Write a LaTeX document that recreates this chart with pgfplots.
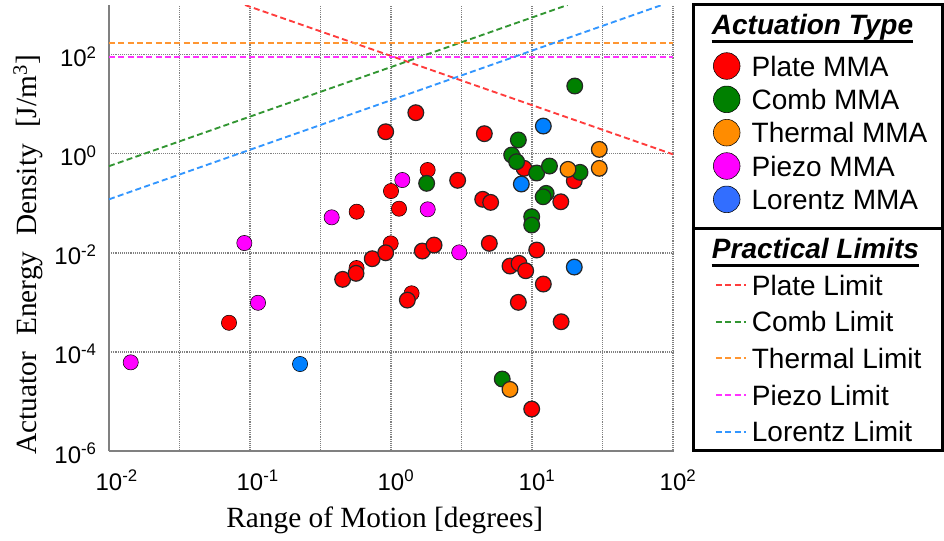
\documentclass[border=0pt]{standalone}
\usepackage{fontspec}
\setmainfont{Liberation Sans}
\newfontfamily\timesfont{Liberation Serif}
\usepackage{pgfplots}
\pgfplotsset{compat=1.18}

\definecolor{cRed}{RGB}{255,0,0}
\definecolor{cGreen}{RGB}{0,128,0}
\definecolor{cOrange}{RGB}{255,140,0}
\definecolor{cMag}{RGB}{255,0,255}
\definecolor{cBlue}{RGB}{0,128,255}
\definecolor{lRed}{RGB}{255,60,60}
\definecolor{lGreen}{RGB}{50,150,50}
\definecolor{lOrange}{RGB}{255,150,50}
\definecolor{lMag}{RGB}{255,50,255}
\definecolor{lBlue}{RGB}{50,150,255}
\definecolor{legBlue}{RGB}{50,110,255}

\pgfplotsset{
  myedged/.style={only marks, mark=*, mark size=5.9pt, mark options={fill=#1, draw=black!85, line width=0.9pt}},
  myplain/.style={only marks, mark=*, mark size=5.7pt, mark options={fill=#1, draw=none}},
  mylegmark/.style={only marks, mark=*, mark size=10pt, mark options={fill=#1, draw=none},
     legend image code/.code={\draw plot coordinates {(0pt,0pt)};}},
  mylimit/.style={color=#1, line width=1.4pt, dash pattern=on 4.5pt off 2.5pt,
     legend image code/.code={\draw (0pt,0pt) -- (22.5pt,0pt);}},
}

\begin{document}
\begin{tikzpicture}
\useasboundingbox (-81.75pt,-66.75pt) rectangle (626.25pt,338.25pt);

% background axis: grid, labels, practical limits
\begin{axis}[
  scale only axis, width=423pt, height=334.5pt,
  xmode=log, ymode=log,
  xmin=0.01, xmax=100, ymin=1e-6, ymax=1000,
  at={(0pt,0pt)}, anchor=south west,
  axis lines*=left,
  axis line style={-, gray, line width=1.5pt},
  xtick={0.01,0.1,1,10,100},
  xticklabels={10\rlap{\textsuperscript{-2}},10\rlap{\textsuperscript{-1}},10\rlap{\textsuperscript{0}},10\rlap{\textsuperscript{1}},10\rlap{\textsuperscript{2}}},
  minor xtick={0.0316228,0.316228,3.16228,31.6228},
  ytick={1e-6,1e-4,1e-2,1,100},
  yticklabels={10\textsuperscript{-6},10\textsuperscript{-4},10\textsuperscript{-2},10\textsuperscript{0},10\textsuperscript{2}},
  major tick length=0pt, minor tick length=0pt,
  xmajorgrids, xminorgrids, ymajorgrids,
  grid style={densely dotted, black!50, line width=1.1pt},
  tick label style={font=\fontsize{18}{20}\selectfont},
  xticklabel style={anchor=base, inner sep=0pt, yshift=-29.25pt},
  yticklabel style={anchor=base east, inner sep=0pt, xshift=-9pt, yshift=-9pt},
  xlabel={\timesfont Range of Motion [degrees]},
  ylabel={\timesfont Actuator\hspace{0.3em} Energy\hspace{0.3em} Density\hspace{0.3em} [J/m\textsuperscript{3}]},
  label style={font=\fontsize{22}{26}\selectfont},
  xlabel style={at={(axis description cs:0.489,-0.1704)}, anchor=base},
  ylabel style={at={(axis description cs:-0.143,0.440)}, anchor=center},
  legend style={at={(1.0745,0.3946)}, anchor=north west, draw=none, fill=none,
    inner sep=0pt, outer sep=0pt, row sep=12.5pt, column sep=3.75pt,
    font=\fontsize{21}{24}\selectfont,
    nodes={inner sep=0pt, text height=15pt, text depth=0pt}},
  legend cell align=left,
]
\addplot[mylimit=lRed] coordinates {(0.0922,1000) (100,0.97)};
\addlegendentry{Plate Limit}
\addplot[mylimit=lGreen] coordinates {(0.01,0.56) (17.86,1000)};
\addlegendentry{Comb Limit}
\addplot[mylimit=lOrange] coordinates {(0.01,173) (100,173)};
\addlegendentry{Thermal Limit}
\addplot[mylimit=lMag] coordinates {(0.01,88) (100,88)};
\addlegendentry{Piezo Limit}
\addplot[mylimit=lBlue] coordinates {(0.01,0.12) (83.3,1000)};
\addlegendentry{Lorentz Limit}
\end{axis}

% foreground axis: data
\begin{axis}[
  scale only axis, width=423pt, height=334.5pt,
  xmode=log, ymode=log,
  xmin=0.01, xmax=100, ymin=1e-6, ymax=1000,
  at={(0pt,0pt)}, anchor=south west,
  hide axis,
  legend style={at={(1.0716,0.8931)}, anchor=north west, draw=none, fill=none,
    inner sep=0pt, outer sep=0pt, row sep=5pt, column sep=8.7pt,
    font=\fontsize{21}{24}\selectfont,
    nodes={inner sep=0pt, text height=15pt, text depth=0pt}},
  legend cell align=left,
]
% points without edge
\addplot[myplain=cRed, forget plot] coordinates {
 (1.82,0.468) (1.0,0.176) (1.14,0.0775) (0.571,0.0674) (0.57,0.00492)
 (0.995,0.0155) (1.40,0.00152) (0.071,3.87e-4)};
\addplot[myplain=cMag, forget plot] coordinates {
 (0.01426,6.15e-5) (0.0912,0.01573) (0.114,9.8e-4) (0.3796,0.0519)
 (1.203,0.294) (1.821,0.0753) (3.05,0.0102)};
\addplot[myplain=cBlue, forget plot] coordinates {(0.2265,5.69e-5)};
% points with edge
\addplot[myedged=cRed, forget plot] coordinates {
 (1.50,6.71) (0.917,2.77) (4.59,2.53) (2.97,0.29) (4.47,0.12) (5.09,0.104)
 (0.454,0.00291) (0.565,0.00385) (0.736,0.00759) (0.917,0.0100) (1.667,0.01084)
 (2.02,0.0143) (4.98,0.0155) (1.306,0.00111) (10.8,0.01137) (6.98,0.0054)
 (8.09,0.00612) (9.02,0.00434) (12.03,0.00234) (8.0,0.001) (16.1,4.06e-4)
 (9.95,7.03e-6) (8.79,0.506) (19.95,0.284) (16.0,0.107)};
\addplot[myedged=cGreen, forget plot] coordinates {
 (20.1,23.2) (8.0,1.89) (7.18,0.94) (7.78,0.689) (10.8,0.407) (13.3,0.563)
 (21.9,0.42) (1.79,0.252) (12.6,0.158) (12.0,0.135) (9.95,0.0535) (9.95,0.0363)
 (6.15,2.83e-5)};
\addplot[myedged=cOrange, forget plot] coordinates {
 (30.0,1.22) (30.0,0.506) (18.0,0.483) (6.98,1.75e-5)};
\addplot[myedged=cBlue, forget plot] coordinates {
 (12.03,3.61) (8.40,0.244) (19.95,0.00515)};

\addlegendimage{mylegmark=cRed}\addlegendentry{Plate MMA}
\addlegendimage{mylegmark=cGreen}\addlegendentry{Comb MMA}
\addlegendimage{mylegmark=cOrange}\addlegendentry{Thermal MMA}
\addlegendimage{mylegmark=cMag}\addlegendentry{Piezo MMA}
\addlegendimage{mylegmark=legBlue}\addlegendentry{Lorentz MMA}
\end{axis}

% legend frames and headings
\draw[line width=2.25pt] (438pt,0.75pt) rectangle (625pt,334.5pt);
\draw[line width=2.25pt] (438pt,167pt) -- (625pt,167pt);
\node[anchor=base west, inner sep=0pt, font=\fontsize{21}{24}\selectfont\bfseries\itshape] (h1) at (452pt,312pt) {Actuation Type};
\draw[line width=2.25pt] ([yshift=-5pt]h1.base west) -- ([yshift=-5pt]h1.base east);
\node[anchor=base west, inner sep=0pt, font=\fontsize{21}{24}\selectfont\bfseries\itshape] (h2) at (452pt,144.5pt) {Practical Limits};
\draw[line width=2.25pt] ([yshift=-5pt]h2.base west) -- ([yshift=-5pt]h2.base east);
\end{tikzpicture}
\end{document}
